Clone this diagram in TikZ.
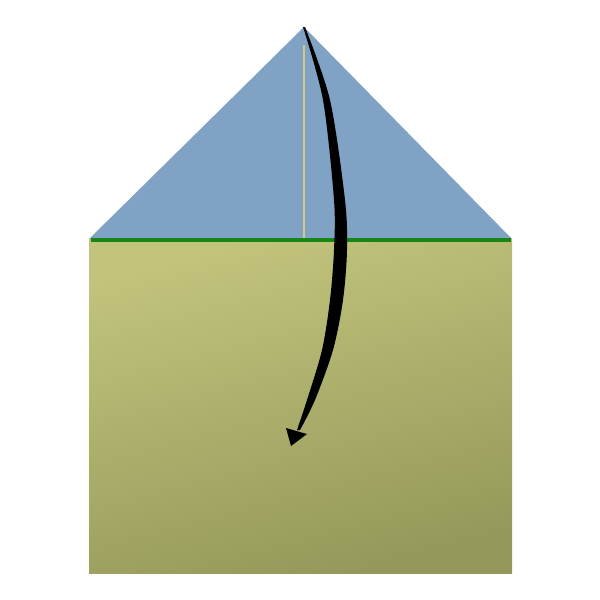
\documentclass[tikz,border=0pt]{standalone}
\definecolor{flapblue}{RGB}{128,163,197}
\definecolor{papertop}{RGB}{194,196,124}
\definecolor{paperbot}{RGB}{148,152,90}
\definecolor{foldgreen}{RGB}{22,135,22}
\definecolor{creaseyel}{RGB}{210,202,130}
\begin{document}
\begin{tikzpicture}[x=0.01cm,y=-0.01cm]
            \useasboundingbox (0,0) rectangle (600,600);
            \def \l {89}
            \def \r {512}
            \coordinate (apex) at (304,27);
            \coordinate (tl) at (\l,239);
            \coordinate (tr) at (\r,239);
            \coordinate (bl) at (\l,573);
            \coordinate (br) at (\r,573);
            % paper body
            \shade[top color=papertop, bottom color=paperbot, shading angle=15] (tl) rectangle (br);
            % folded flap
            \fill[flapblue] (tl) -- (apex) -- (tr) -- cycle;
            \draw[creaseyel, line width=0.5pt] (304,45) -- (304,238);
            \draw[foldgreen, line width=0.9pt] (91,240) -- (511,240);
            % arrow
            \fill[black] plot[smooth] coordinates {(305,27) (330,100) (345,200) (347,250) (343,300) (333,350) (315,400) (300,430)}
                -- plot[smooth] coordinates {(297,430) (307,400) (322,350) (330,300) (334,250) (334,200) (323,100) (303,27)} -- cycle;
            \fill[black] (286,428) -- (307,434) -- (291,446) -- cycle;
        \end{tikzpicture}
\end{document}
